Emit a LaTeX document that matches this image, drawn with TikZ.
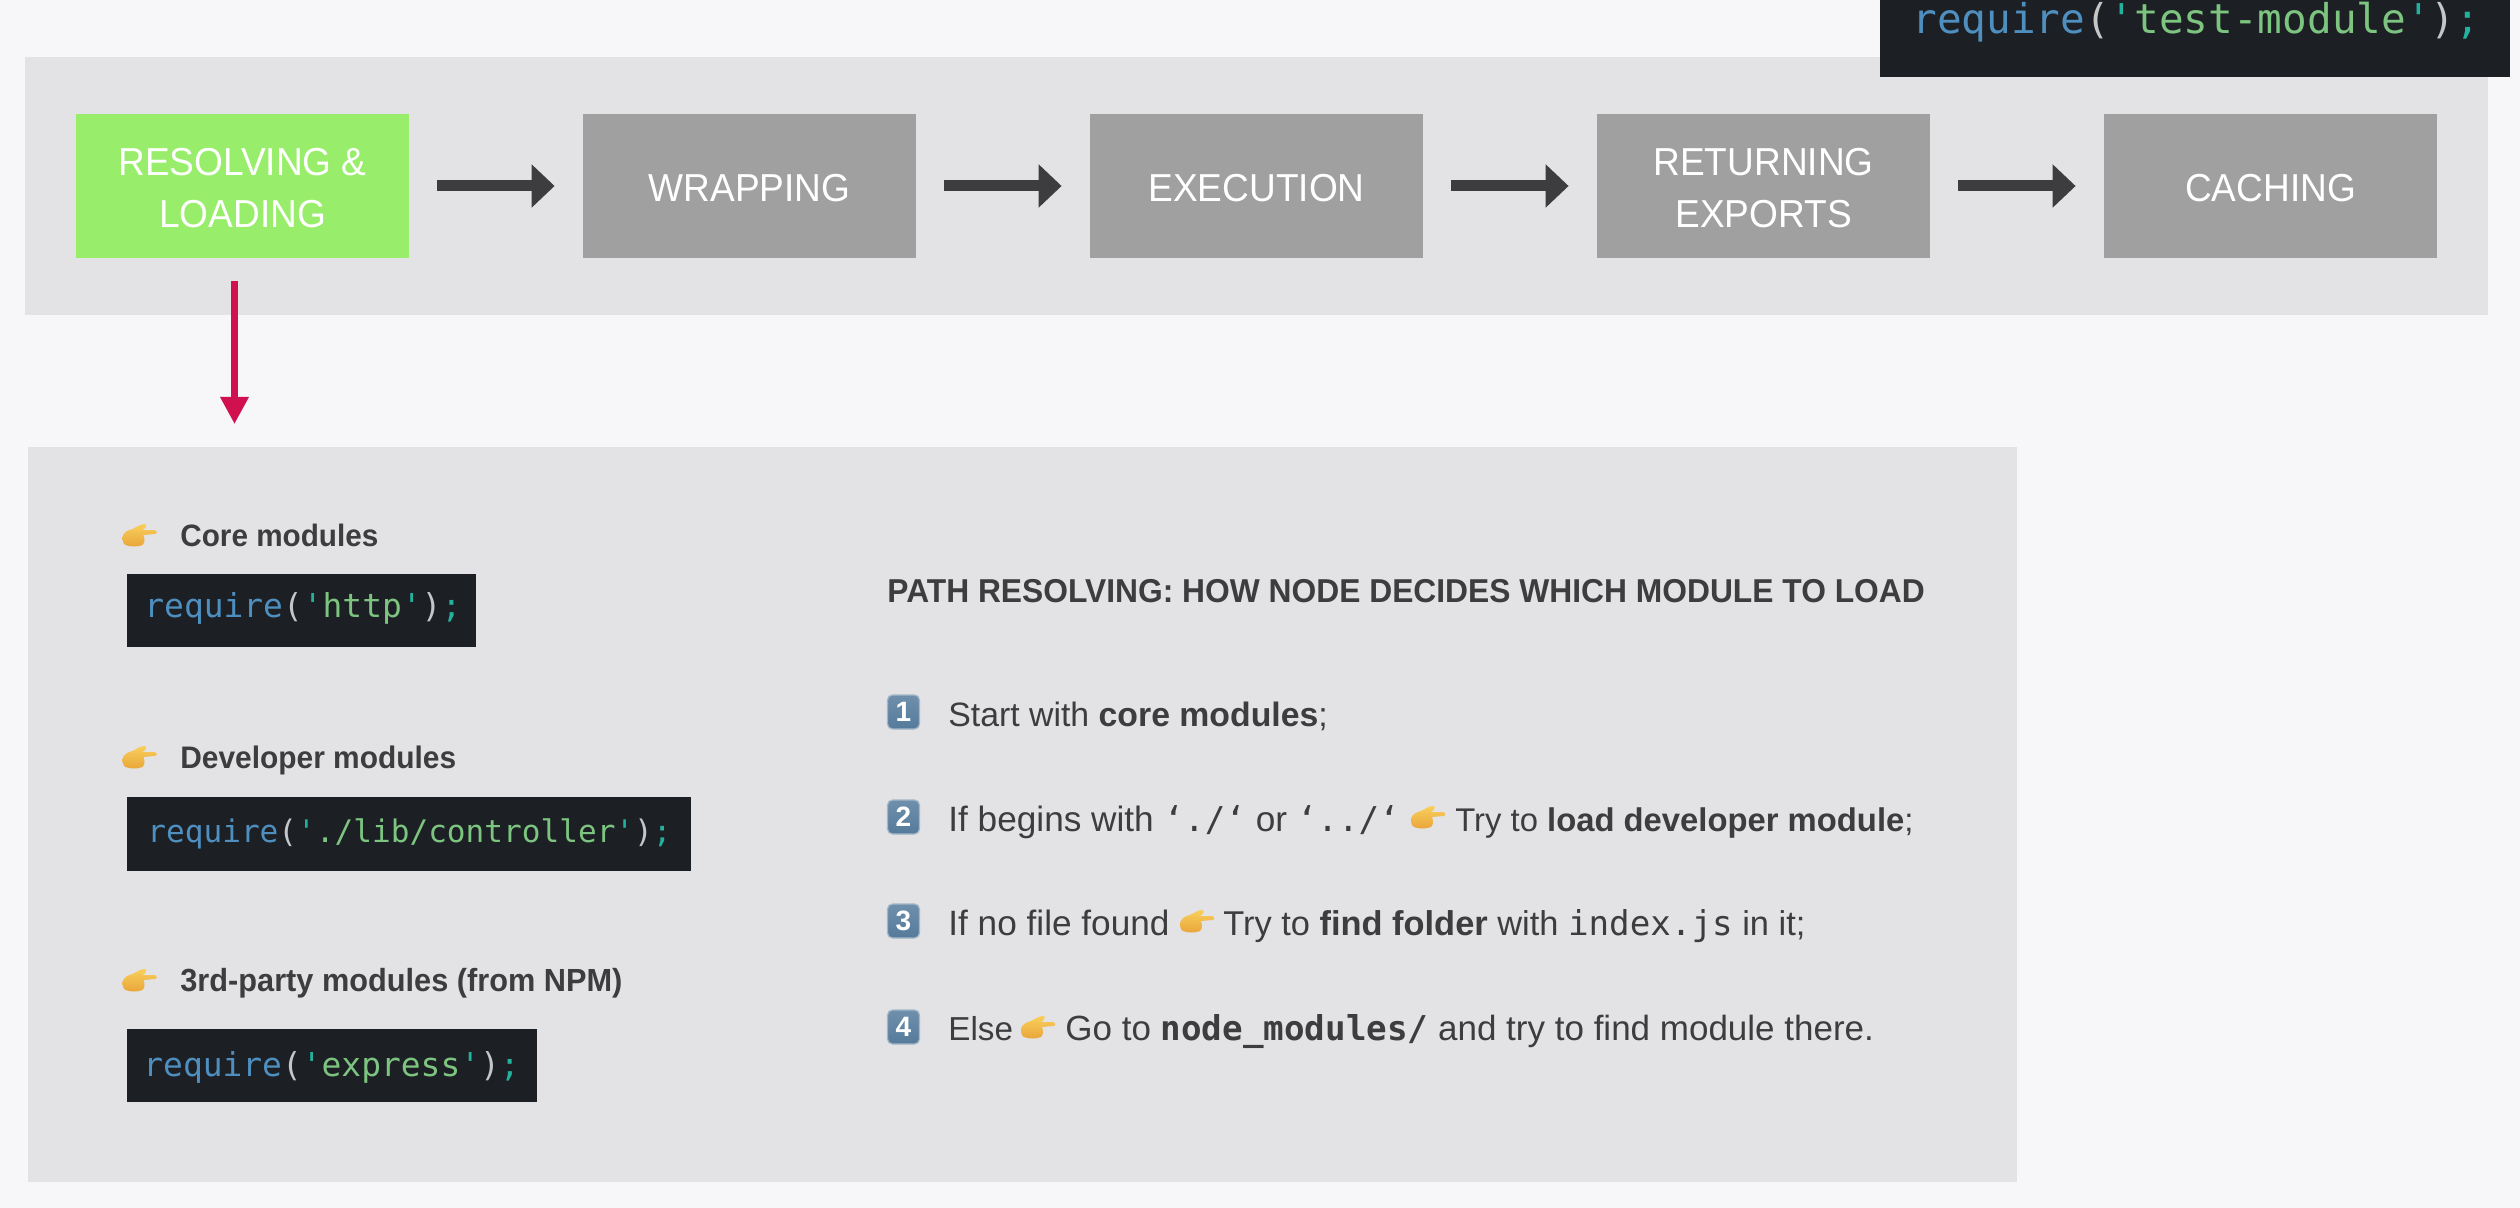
\documentclass[tikz,border=0pt]{standalone}
\usepackage{fontspec}
\setmainfont{Liberation Sans}
\newfontfamily\bodyfont{Liberation Sans}
\newfontfamily\headfont[FakeStretch=0.96]{Liberation Sans}
\newfontfamily\labelfont[FakeStretch=0.95]{Liberation Sans}
\newfontfamily\codefont{DejaVu Sans Mono}
\usetikzlibrary{arrows.meta}
\definecolor{pagebg}{HTML}{F7F6F9}
\definecolor{panelbg}{HTML}{E3E2E5}
\definecolor{stepgray}{HTML}{A0A0A0}
\definecolor{stepgreen}{HTML}{98EE6B}
\definecolor{codebg}{HTML}{1C1F24}
\definecolor{inkdark}{HTML}{3D3C3F}
\definecolor{pinkarrow}{HTML}{D1114F}
\definecolor{codeblue}{HTML}{4F8FBF}
\definecolor{codegreen}{HTML}{7CC47F}
\definecolor{codeteal}{HTML}{23B29E}
\definecolor{codeparen}{HTML}{C4C6C8}
\definecolor{handtop}{HTML}{F9CF5C}
\definecolor{handbottom}{HTML}{E9A53A}
\definecolor{captop}{HTML}{6F90AC}
\definecolor{capbottom}{HTML}{557A9B}
\definecolor{capedge}{HTML}{A3B8C9}
\newcommand{\bodyat}[1]{\bodyfont\fontsize{#1pt}{#1pt}\selectfont}
\newcommand{\headat}[1]{\headfont\bfseries\fontsize{#1pt}{#1pt}\selectfont}
\newcommand{\codeat}[1]{\codefont\fontsize{#1pt}{#1pt}\selectfont}
\newcommand{\reqcode}[1]{\textcolor{codeblue}{require}\textcolor{codeparen}{(}\textcolor{codeteal}{'}\textcolor{codegreen}{#1}\textcolor{codeteal}{'}\textcolor{codeparen}{)}\textcolor{codeteal}{;}}
\newcommand{\inmono}[1]{{\codeat{17.1}#1}}
\tikzset{
  x=0.5pt,y=-0.5pt,
  panel/.style={fill=panelbg,draw=none},
  stepbox/.style={fill=stepgray,draw=none,minimum width=166.5pt,minimum height=72pt,inner sep=0pt},
  greenbox/.style={stepbox,fill=stepgreen},
  steplabel/.style={text=white,align=center,inner sep=0pt,yshift=-1pt,font=\labelfont\fontsize{19.5pt}{26.4pt}\selectfont},
  flowarrow/.style={draw=inkdark,line width=5.5pt,-{Triangle[length=11.5pt,width=21pt]}},
  downarrow/.style={draw=pinkarrow,line width=3.2pt,-{Triangle[length=13.5pt,width=13.5pt]}},
  codebox/.style={fill=codebg,draw=none},
  codetext/.style={anchor=base west,inner sep=0pt,font=\codeat{16.45}},
  heading/.style={anchor=base west,inner sep=0pt,text=inkdark},
  bodytext/.style={anchor=base west,inner sep=0pt,text=inkdark},
  keycap/.style={rectangle,rounded corners=2.5pt,minimum width=16pt,minimum height=17pt,inner sep=0pt,
    top color=captop,bottom color=capbottom,draw=capedge,line width=0.6pt,text=white,font=\bodyfont\bfseries\fontsize{14pt}{14pt}\selectfont},
  hand/.pic={
    \shade[top color=handtop,bottom color=handbottom] (-17,2)
      .. controls (-16,-3) and (-11,-5) .. (-7,-6)
      .. controls (-3,-8) and (1,-11) .. (5,-11)
      .. controls (8,-11) and (7,-7) .. (3,-5)
      -- (15,-5) .. controls (18,-4) and (18,-1) .. (15,-1)
      -- (4,0) .. controls (5,3) and (6,7) .. (3,10)
      .. controls (-2,12) and (-9,12) .. (-14,10)
      .. controls (-17,8) and (-17,5) .. (-17,2) -- cycle;
  },
}
\begin{document}
\begin{tikzpicture}
\useasboundingbox[fill=pagebg] (0,0) rectangle (2520,1208);
% panels
\fill[panel] (25,57) rectangle (2488,315);
\fill[panel] (28,447) rectangle (2017,1182);
% top-right code box
\fill[codebox] (1880,0) rectangle (2510,77);
\node[codetext,font=\codeat{20.5}] (topcode) at (1912,34) {\reqcode{test-module}};
% step boxes
\node[greenbox,label={[steplabel]center:RESOLVING \&\\LOADING}] (s1) at (242.5,186) {};
\node[stepbox,label={[steplabel]center:WRAPPING}] (s2) at (749.5,186) {};
\node[stepbox,label={[steplabel]center:EXECUTION}] (s3) at (1256.5,186) {};
\node[stepbox,label={[steplabel]center:RETURNING\\EXPORTS}] (s4) at (1763.5,186) {};
\node[stepbox,label={[steplabel]center:CACHING}] (s5) at (2270.5,186) {};
% arrows
\draw[flowarrow] ([xshift=14pt]s1.east) -- ([xshift=-14pt]s2.west);
\draw[flowarrow] ([xshift=14pt]s2.east) -- ([xshift=-14pt]s3.west);
\draw[flowarrow] ([xshift=14pt]s3.east) -- ([xshift=-14pt]s4.west);
\draw[flowarrow] ([xshift=14pt]s4.east) -- ([xshift=-14pt]s5.west);
\coordinate (pinkstart) at (234.5,281);
\coordinate (pinkend) at (234.5,424);
\draw[downarrow] (pinkstart) -- (pinkend);
% left column
\pic at (139.5,535) {hand};
\node[heading,font=\headat{15.47}] (h1) at (180,546.5) {Core modules};
\fill[codebox] (127,574) rectangle (476,647);
\node[codetext] (c1) at (144,617) {\reqcode{http}};
\pic at (139.5,757) {hand};
\node[heading,font=\headat{15.57}] (h2) at (180,768.5) {Developer modules};
\fill[codebox] (127,797) rectangle (691,871);
\node[codetext,font=\codeat{15.55}] (c2) at (147,842.5) {\reqcode{./lib/controller}};
\pic at (139.5,980) {hand};
\node[heading,font=\headat{16}] (h3) at (180,991.5) {3rd-party modules (from NPM)};
\fill[codebox] (127,1029) rectangle (537,1102);
\node[codetext] (c3) at (143,1076) {\reqcode{express}};
% right column
\node[heading,font=\headat{16.55}] (title) at (887,602.5) {PATH RESOLVING: HOW NODE DECIDES WHICH MODULE TO LOAD};
\node[keycap] (k1) at (903.5,712) {1};
\node[keycap] (k2) at (903.5,817) {2};
\node[keycap] (k3) at (903.5,921) {3};
\node[keycap] (k4) at (903.5,1027) {4};
\node[bodytext,font=\bodyat{16.9}] (l1) at (948,726) {Start with \textbf{core modules};};
\node[bodytext,font=\bodyat{17.6}] (l2a) at (948,831) {If begins with \inmono{‘./‘} or \inmono{‘../‘}};
\pic at (1428,817) {hand};
\node[bodytext,font=\bodyat{16.4}] (l2b) at (1455,831) {Try to \textbf{load developer module};};
\node[bodytext,font=\bodyat{17.6}] (l3a) at (948,935) {If no file found};
\pic at (1197,921) {hand};
\node[bodytext,font=\bodyat{17.2}] (l3b) at (1223,935) {Try to \textbf{find folder} with \inmono{index.js} in it;};
\node[bodytext,font=\bodyat{16.6}] (l4a) at (948,1040) {Else};
\pic at (1038,1027) {hand};
\node[bodytext,font=\bodyat{17.5}] (l4b) at (1065,1040) {Go to \inmono{\bfseries node\_modules/} and try to find module there.};
\end{tikzpicture}
\end{document}
